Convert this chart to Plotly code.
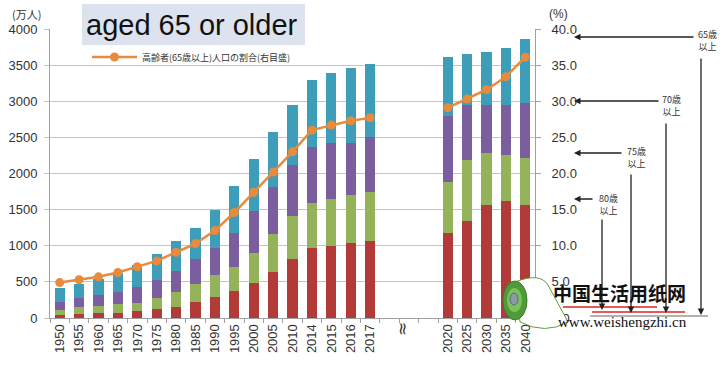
import plotly.graph_objects as go

# ---------------- data ----------------
hist_years = ['1950', '1955', '1960', '1965', '1970', '1975', '1980', '1985', '1990',
              '1995', '2000', '2005', '2010', '2014', '2015', '2016', '2017']
gap_cats = [' ', '  ', '   ']
proj_years = ['2020', '2025', '2030', '2035', '2040']

# population (万人) by age group
hist_80 = [42, 51, 65, 74, 97, 120, 157, 217, 286, 378, 489, 637, 812, 964, 997, 1043, 1070]
hist_75 = [69, 97, 101, 120, 115, 161, 207, 254, 309, 332, 406, 526, 604, 623, 646, 655, 674]
hist_70 = [115, 124, 152, 170, 213, 245, 291, 341, 378, 471, 590, 654, 697, 784, 775, 729, 766]
hist_65 = [185, 204, 218, 254, 308, 361, 410, 435, 520, 646, 719, 760, 835, 929, 969, 1032, 1004]
proj_80 = [1172, 1343, 1564, 1624, 1564]
proj_75 = [715, 844, 715, 637, 655]
proj_70 = [909, 761, 669, 687, 761]
proj_65 = [816, 709, 737, 793, 888]

# share of 65+ (%)
ratio_hist = [4.9, 5.3, 5.7, 6.3, 7.1, 7.9, 9.1, 10.3, 12.1, 14.6, 17.4, 20.2, 23.0,
              26.0, 26.7, 27.3, 27.7]
ratio_proj = [29.1, 30.3, 31.6, 33.4, 36.1]

left_ticks = [0, 500, 1000, 1500, 2000, 2500, 3000, 3500, 4000]
right_ticks = [0, 5, 10, 15, 20, 25, 30, 35, 40]
right_ticktext = ['0.0', '5.0', '10.0', '15.0', '20.0', '25.0', '30.0', '35.0', '40.0']

legend_label = '高齢者(65歳以上)人口の割合(右目盛)'
title_text = 'aged 65 or older'

# ---------------- assemble ----------------
categories = hist_years + gap_cats + proj_years
blank = [None] * len(gap_cats)


def full(h, p):
    return h + blank + p


FONT = 'Liberation Sans, Arial, sans-serif'
CJK = 'Noto Sans CJK JP, sans-serif'

fig = go.Figure()
series = [
    ('80歳以上', full(hist_80, proj_80), '#B23B3A'),
    ('75～79歳', full(hist_75, proj_75), '#94B25A'),
    ('70～74歳', full(hist_70, proj_70), '#7B5E9E'),
    ('65～69歳', full(hist_65, proj_65), '#3E9DB9'),
]
for name, vals, col in series:
    fig.add_trace(go.Bar(x=categories, y=vals, name=name, marker_color=col,
                         marker_line_width=0, showlegend=False))

fig.add_trace(go.Scatter(x=categories, y=full(ratio_hist, ratio_proj), yaxis='y2',
                         name=legend_label, mode='lines+markers',
                         line=dict(color='#E88B3C', width=2.5),
                         marker=dict(color='#E88B3C', size=9),
                         connectgaps=False, showlegend=True))

# pixel -> paper helpers (plot area: x 50..535, y 29..318)
def X(px):
    return (px - 50) / 485.0


def Y(py):
    return (318 - py) / 289.0


shapes = []
annotations = []


def label(px, py, text, font, **kw):
    d = dict(xref='paper', yref='paper', x=X(px), y=Y(py), text=text, showarrow=False,
             font=font, xanchor='center', yanchor='middle')
    d.update(kw)
    annotations.append(d)


# title box
shapes.append(dict(type='rect', xref='paper', yref='paper', x0=X(82), x1=X(305),
                   y0=Y(45), y1=Y(4), fillcolor='#DCE3EE', line_width=0, layer='above'))
label(192, 25, title_text, dict(family=FONT, size=29, color='#111111'))

# axis unit labels
label(26, 14, '(万人)', dict(family=CJK, size=11, color='#333333'))
label(558, 14, '(%)', dict(family=FONT, size=12, color='#333333'))

# break mark
label(402, 329, '≈', dict(family='DejaVu Sans', size=17, color='#333333'), textangle=-90)

# right-side age annotations
ARW = '#222222'
groups = [
    ('65歳<br>以上', 707, 41, 37, 695, 701, 57, 315),
    ('70歳<br>以上', 671, 105, 101, 660, 666, 122, 313),
    ('75歳<br>以上', 636, 157, 153, 623, 631, 173, 313),
    ('80歳<br>以上', 608, 204, 199, 594, 602, 218, 310),
]
for txt, tx, ty, ay_, tail_x, vx, vy0, vy1 in groups:
    label(tx, ty, txt, dict(family=CJK, size=9, color='#333333'), align='center')
    annotations.append(dict(xref='paper', yref='paper', x=X(574), y=Y(ay_), text='',
                            showarrow=True, ax=tail_x - 574, ay=0, arrowhead=2,
                            arrowsize=1, arrowwidth=1.3, arrowcolor=ARW))
    annotations.append(dict(xref='paper', yref='paper', x=X(vx), y=Y(vy1), text='',
                            showarrow=True, ax=0, ay=-(vy1 - vy0), arrowhead=2,
                            arrowsize=1, arrowwidth=1.3, arrowcolor=ARW))

shapes.append(dict(type='line', xref='paper', yref='paper', x0=X(590), x1=X(708),
                   y0=Y(316), y1=Y(316), line=dict(color='#999999', width=1.5)))

# watermark (logo + text)
shapes.append(dict(type='path', xref='paper', yref='paper',
                   path=f'M {X(515)},{Y(282)} Q {X(540)},{Y(272)} {X(548)},{Y(285)} '
                        f'L {X(568)},{Y(322)} Q {X(545)},{Y(335)} {X(520)},{Y(322)} Z',
                   fillcolor='white', line=dict(color='#5E9E3A', width=1), layer='above'))
shapes.append(dict(type='circle', xref='paper', yref='paper', x0=X(503), x1=X(527),
                   y0=Y(320), y1=Y(281), fillcolor='#4F9A3A',
                   line=dict(color='#3C7E2A', width=1), layer='above'))
shapes.append(dict(type='circle', xref='paper', yref='paper', x0=X(507), x1=X(522),
                   y0=Y(312), y1=Y(288), fillcolor='#7CC25A', line_width=0, layer='above'))
shapes.append(dict(type='circle', xref='paper', yref='paper', x0=X(510), x1=X(518),
                   y0=Y(305), y1=Y(293), fillcolor='#8A9AA6',
                   line=dict(color='#556677', width=1), layer='above'))
shapes.append(dict(type='line', xref='paper', yref='paper', x0=X(563), x1=X(657),
                   y0=Y(307), y1=Y(307), line=dict(color='#E0231C', width=1.5), layer='above'))
shapes.append(dict(type='line', xref='paper', yref='paper', x0=X(592), x1=X(685),
                   y0=Y(312), y1=Y(312), line=dict(color='#E0231C', width=1.5), layer='above'))
label(619, 292, '<b>中国生活用纸网</b>',
      dict(family='Noto Sans CJK SC, sans-serif', size=19, color='#111111'))
label(622, 322, 'www.weishengzhi.cn', dict(family='Liberation Serif, serif', size=15,
                                           color='#111111'))

fig.update_layout(
    width=724, height=365,
    margin=dict(l=50, r=189, t=29, b=47, pad=0),
    paper_bgcolor='white', plot_bgcolor='white',
    barmode='stack', bargap=0.47,
    font=dict(family=FONT, size=13, color='#333333'),
    xaxis=dict(type='category', categoryorder='array', categoryarray=categories,
               tickmode='array', tickvals=categories, ticktext=categories,
               tickangle=-90, tickson='boundaries', ticks='outside', ticklen=4,
               tickcolor='#A0A0A0', showline=True, linecolor='#A0A0A0', linewidth=1,
               showgrid=False, tickfont=dict(size=13, color='#333333'),
               range=[-0.5, len(categories) - 0.5], automargin=False),
    yaxis=dict(range=[0, 4000], tickvals=left_ticks, showgrid=True, gridcolor='#C4C4C4',
               gridwidth=1, showline=True, linecolor='#A0A0A0', ticks='outside', ticklen=5,
               tickcolor='#C4C4C4', zeroline=False, tickfont=dict(size=13, color='#333333'),
               ticklabelstandoff=4, automargin=False),
    yaxis2=dict(range=[0, 40], overlaying='y', side='right', tickvals=right_ticks,
                ticktext=right_ticktext, showgrid=False, showline=True, linecolor='#A0A0A0',
                ticks='outside', ticklen=5, tickcolor='#A0A0A0', zeroline=False,
                tickfont=dict(size=13, color='#333333'), ticklabelstandoff=8,
                automargin=False),
    legend=dict(x=X(87), y=Y(57), xanchor='left', yanchor='middle', bgcolor='rgba(0,0,0,0)',
                font=dict(family=CJK, size=9, color='#333333'), borderwidth=0, itemwidth=45),
    shapes=shapes, annotations=annotations,
)

fig.write_html('out.html', config={'displayModeBar': False},
               post_script="document.body.style.margin='0px';")
